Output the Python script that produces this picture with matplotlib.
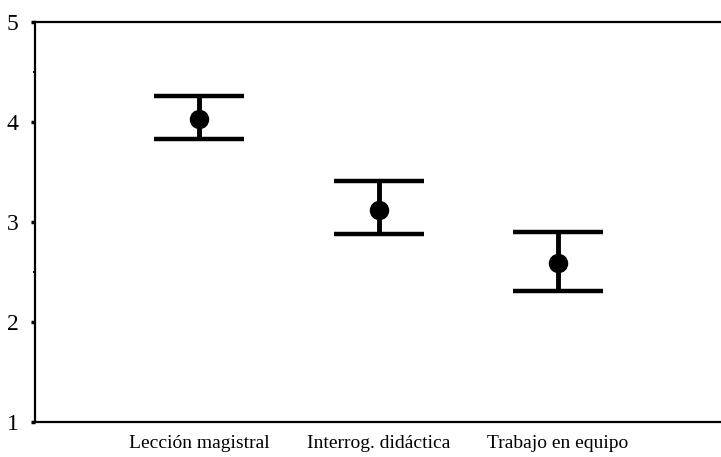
import matplotlib
matplotlib.use("Agg")
import matplotlib.pyplot as plt

categories = ["Lección magistral", "Interrog. didáctica", "Trabajo en equipo"]
means = [4.03, 3.12, 2.59]
upper = [4.26, 3.41, 2.90]
lower = [3.83, 2.88, 2.31]
yticks = [1, 2, 3, 4, 5]

plt.rcParams['font.family'] = ['Liberation Serif', 'DejaVu Serif']

fig = plt.figure(figsize=(7.21, 4.57), dpi=100)
ax = fig.add_axes([35/721, 35/457, 1 - 35/721 + 0.01, 400/457])

x = [1, 2, 3]
yerr = [[m - l for m, l in zip(means, lower)], [u - m for m, u in zip(means, upper)]]
ax.errorbar(x, means, yerr=yerr, fmt='o', color='black', ms=13, elinewidth=3.5,
            capsize=32.5, capthick=3.2)

ax.set_xlim(0.083, 3.95)
ax.set_ylim(1, 5)
ax.set_yticks(yticks)
ax.set_yticklabels([str(v) for v in yticks], fontsize=17)
ax.set_yticks([2.5, 4.5], minor=True)
ax.tick_params(axis='y', which='major', length=3, width=2.5, direction='out', pad=9)
ax.tick_params(axis='y', which='minor', length=1.5, width=1.5, direction='out')
ax.set_xticks(x)
ax.set_xticklabels(categories, fontsize=14)
ax.tick_params(axis='x', length=0, pad=9)

for s in ['right']:
    ax.spines[s].set_visible(False)
for s in ['left', 'top', 'bottom']:
    ax.spines[s].set_linewidth(1.6)

fig.savefig("out.png", dpi=100)
